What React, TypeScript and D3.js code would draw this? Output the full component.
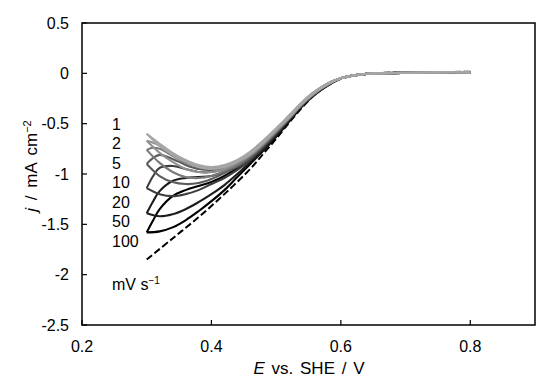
import * as d3 from 'd3';

// scan rates / mV s-1, light to dark
const scanRates = ['1', '2', '5', '10', '20', '50', '100'];
const curveColors = ['#a6a6a6', '#919191', '#7a7a7a', '#5c5c5c', '#3c3c3c', '#1c1c1c', '#000000'];

// cathodic arm, potentials from 0.30 up to 0.58 V
const cathodicE = [0.30, 0.32, 0.34, 0.36, 0.38, 0.40, 0.42, 0.44, 0.46, 0.48, 0.50, 0.52, 0.54, 0.56, 0.58];
const cathodicJ = [
  [-0.6, -0.72, -0.81, -0.88, -0.93, -0.95, -0.93, -0.88, -0.8, -0.69, -0.56, -0.44, -0.3, -0.19, -0.11],
  [-0.67, -0.79, -0.88, -0.95, -0.98, -0.98, -0.95, -0.89, -0.81, -0.7, -0.57, -0.44, -0.3, -0.19, -0.11],
  [-0.76, -0.89, -0.98, -1.03, -1.04, -1.02, -0.97, -0.91, -0.82, -0.71, -0.58, -0.45, -0.31, -0.2, -0.11],
  [-0.9, -1.02, -1.08, -1.1, -1.09, -1.05, -0.99, -0.93, -0.84, -0.72, -0.59, -0.45, -0.31, -0.2, -0.11],
  [-1.14, -1.2, -1.22, -1.2, -1.16, -1.1, -1.04, -0.96, -0.86, -0.74, -0.6, -0.46, -0.32, -0.2, -0.12],
  [-1.39, -1.42, -1.4, -1.35, -1.28, -1.2, -1.11, -1.0, -0.88, -0.76, -0.62, -0.47, -0.32, -0.21, -0.12],
  [-1.58, -1.57, -1.53, -1.46, -1.37, -1.27, -1.16, -1.03, -0.9, -0.77, -0.63, -0.48, -0.33, -0.21, -0.12],
];

// anodic (return) arm, 0.30 up to 0.58 V
const anodicE = [0.30, 0.31, 0.32, 0.34, 0.36, 0.38, 0.40, 0.42, 0.44, 0.46, 0.48, 0.50, 0.52, 0.54, 0.56, 0.58];
const anodicJ = [
  [-0.6, -0.65, -0.7, -0.79, -0.86, -0.91, -0.93, -0.91, -0.86, -0.78, -0.67, -0.55, -0.42, -0.29, -0.18, -0.1],
  [-0.67, -0.69, -0.72, -0.8, -0.87, -0.92, -0.94, -0.92, -0.87, -0.78, -0.67, -0.55, -0.42, -0.29, -0.18, -0.1],
  [-0.76, -0.74, -0.75, -0.82, -0.89, -0.93, -0.95, -0.93, -0.87, -0.79, -0.68, -0.55, -0.43, -0.29, -0.18, -0.1],
  [-0.9, -0.84, -0.81, -0.85, -0.91, -0.95, -0.96, -0.94, -0.88, -0.8, -0.68, -0.56, -0.43, -0.3, -0.19, -0.1],
  [-1.14, -1.02, -0.94, -0.92, -0.95, -0.98, -0.98, -0.95, -0.89, -0.81, -0.69, -0.56, -0.43, -0.3, -0.19, -0.11],
  [-1.39, -1.27, -1.17, -1.07, -1.04, -1.03, -1.02, -0.98, -0.91, -0.82, -0.7, -0.57, -0.44, -0.3, -0.19, -0.11],
  [-1.58, -1.46, -1.35, -1.22, -1.16, -1.12, -1.08, -1.02, -0.94, -0.84, -0.71, -0.57, -0.44, -0.31, -0.2, -0.11],
];

// shared plateau above 0.58 V
const tailE = [0.6, 0.62, 0.64, 0.66, 0.7, 0.75, 0.8];
const tailJ = [-0.05, -0.02, -0.005, 0.0, 0.005, 0.01, 0.01];

// dashed curve
const dashedE = [0.3, 0.34, 0.38, 0.42, 0.46, 0.48, 0.5, 0.52, 0.54, 0.56, 0.58, 0.6, 0.62, 0.66, 0.7, 0.8];
const dashedJ = [-1.85, -1.64, -1.43, -1.2, -0.95, -0.8, -0.65, -0.49, -0.34, -0.21, -0.12, -0.055, -0.02, 0.003, 0.01, 0.015];

const xTicks = [0.2, 0.4, 0.6, 0.8];
const yTicks = [0.5, 0, -0.5, -1, -1.5, -2, -2.5];

const W = 541;
const H = 383;
const margin = { top: 23, right: 6, bottom: 58, left: 82 };

export default function App() {
  const x = d3.scaleLinear().domain([0.2, 0.9]).range([margin.left, W - margin.right]);
  const y = d3.scaleLinear().domain([-2.5, 0.5]).range([H - margin.bottom, margin.top]);

  const line = d3
    .line<[number, number]>()
    .x((d) => x(d[0]))
    .y((d) => y(d[1]))
    .curve(d3.curveCatmullRom.alpha(0.5));

  const tail = tailE.map((e, i) => [e, tailJ[i]] as [number, number]);

  const font = 'Liberation Sans, Arial, sans-serif';

  return (
    <svg width={W} height={H} style={{ position: 'absolute', left: 0, top: 0, background: '#fff' }}>
      {/* dashed curve underneath */}
      <path
        d={line(dashedE.map((e, i) => [e, dashedJ[i]]))!}
        fill="none"
        stroke="#000"
        strokeWidth={2}
        strokeDasharray="7,3"
      />
      {/* CV loops, darkest first */}
      {scanRates
        .map((r, k) => k)
        .reverse()
        .map((k) => {
          const cath = cathodicE.map((e, i) => [e, cathodicJ[k][i]] as [number, number]).reverse();
          const down = [...tail.slice().reverse(), ...cath];
          const up = [...anodicE.map((e, i) => [e, anodicJ[k][i]] as [number, number]), ...tail];
          return (
            <g key={scanRates[k]}>
              <path d={line(down)!} fill="none" stroke={curveColors[k]} strokeWidth={2.1} />
              <path d={line(up)!} fill="none" stroke={curveColors[k]} strokeWidth={2.1} />
            </g>
          );
        })}

      {/* frame */}
      <rect
        x={x(0.2)}
        y={y(0.5)}
        width={x(0.9) - x(0.2)}
        height={y(-2.5) - y(0.5)}
        fill="none"
        stroke="#000"
        strokeWidth={1.5}
      />
      {yTicks.map((t) => (
        <g key={'y' + t}>
          <line x1={x(0.2)} x2={x(0.2) + 5} y1={y(t)} y2={y(t)} stroke="#000" strokeWidth={1.2} />
          <text x={x(0.2) - 13} y={y(t)} dy="0.35em" textAnchor="end" fontFamily={font} fontSize={16}>
            {String(t)}
          </text>
        </g>
      ))}
      {xTicks.map((t) => (
        <g key={'x' + t}>
          <line x1={x(t)} x2={x(t)} y1={y(-2.5)} y2={y(-2.5) - 5} stroke="#000" strokeWidth={1.2} />
          <text x={x(t)} y={352} textAnchor="middle" fontFamily={font} fontSize={16}>
            {t.toFixed(1)}
          </text>
        </g>
      ))}

      {/* scan-rate labels */}
      {scanRates.map((r, i) => (
        <text key={'l' + r} x={112} y={124 + i * 19.5} dy="0.35em" fontFamily={font} fontSize={16}>
          {r}
        </text>
      ))}
      <text x={112} y={284} dy="0.35em" fontFamily={font} fontSize={16}>
        mV s<tspan dy="-6" fontSize={10}>−1</tspan>
      </text>

      {/* axis titles */}
      <text x={309} y={374} textAnchor="middle" fontFamily={font} fontSize={17} wordSpacing={2}>
        <tspan fontStyle="italic">E</tspan> vs. SHE / V
      </text>
      <text
        transform="translate(37,166) rotate(-90)"
        textAnchor="middle"
        fontFamily={font}
        fontSize={17}
        wordSpacing={3}
      >
        <tspan fontStyle="italic">j</tspan> / mA cm<tspan dy="-6" fontSize={11}>−2</tspan>
      </text>
    </svg>
  );
}
